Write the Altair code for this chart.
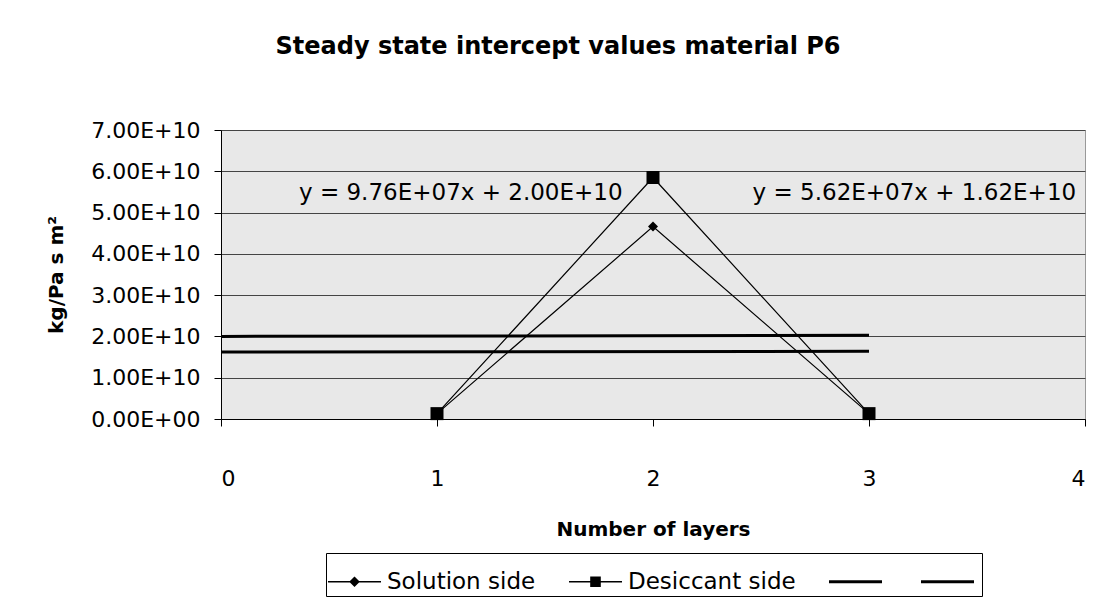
import altair as alt
import pandas as pd

# ---- data ----
layers = [1, 2, 3]
solution_side = [1.3e9, 4.66e10, 1.3e9]
desiccant_side = [1.3e9, 5.85e10, 1.3e9]

trend_x = [0, 3]
trend_upper = [2.00e10, 2.03e10]   # y = 9.76E+07x + 2.00E+10
trend_lower = [1.62e10, 1.64e10]   # y = 5.62E+07x + 1.62E+10

equations = ["y = 9.76E+07x + 2.00E+10", "y = 5.62E+07x + 1.62E+10"]
eq_x = [1.11, 3.21]
eq_y = [5.47e10, 5.47e10]

series_names = ["Solution side", "Desiccant side", "Trend A", "Trend B"]
x_ticks = [0, 1, 2, 3, 4]
y_ticks = [0, 1e10, 2e10, 3e10, 4e10, 5e10, 6e10, 7e10]

FONT = "DejaVu Sans"

# ---- tables ----
series_df = pd.DataFrame(
    {"layers": layers * 2,
     "value": solution_side + desiccant_side,
     "series": ["Solution side"] * 3 + ["Desiccant side"] * 3}
)
trend_df = pd.DataFrame(
    {"layers": trend_x * 2,
     "value": trend_upper + trend_lower,
     "series": ["Trend A"] * 2 + ["Trend B"] * 2}
)
eq_df = pd.DataFrame({"layers": eq_x, "value": eq_y, "text": equations})
legend_df = pd.DataFrame({"series": series_names})

x_enc = alt.X(
    "layers:Q",
    scale=alt.Scale(domain=[0, 4], nice=False, zero=False),
    axis=alt.Axis(
        values=x_ticks, format="d", tickSize=7, tickColor="black",
        domainColor="black", labelFont=FONT, labelFontSize=22, labelColor="black",
        labelPadding=52, labelBaseline="middle", grid=False,
        title="Number of layers", titleFont=FONT, titleFontSize=20,
        titleFontWeight="bold", titleColor="black", titleY=110,
        titleBaseline="middle",
    ),
)
y_enc = alt.Y(
    "value:Q",
    scale=alt.Scale(domain=[0, 7e10], nice=False),
    axis=alt.Axis(
        values=y_ticks,
        labelExpr="replace(upper(format(datum.value, '.2e')), 'E+0', 'E+00')",
        tickSize=7, tickColor="black", domainColor="black",
        labelFont=FONT, labelFontSize=22, labelColor="black", labelPadding=14,
        grid=True, gridColor="#444444", gridWidth=1,
        title="kg/Pa s m²", titleFont=FONT, titleFontSize=20,
        titleFontWeight="bold", titleColor="black",
        titleX=-165, titleY=144.5, titleAngle=270, titleAlign="center",
        titleBaseline="middle",
    ),
)

lines = alt.Chart(series_df).mark_line(color="black", strokeWidth=1.2).encode(
    x=x_enc, y=y_enc, detail="series:N"
)
pts_sol = alt.Chart(series_df).transform_filter(
    alt.datum.series == "Solution side"
).mark_point(shape="diamond", filled=True, color="black", size=100, opacity=1).encode(
    x="layers:Q", y="value:Q"
)
pts_des = alt.Chart(series_df).transform_filter(
    alt.datum.series == "Desiccant side"
).mark_point(shape="square", filled=True, color="black", size=169, opacity=1).encode(
    x="layers:Q", y="value:Q"
)
trends = alt.Chart(trend_df).mark_line(color="black", strokeWidth=3).encode(
    x="layers:Q", y="value:Q", detail="series:N"
)
eq_text = alt.Chart(eq_df).mark_text(
    font=FONT, fontSize=23, color="black", align="center", baseline="middle"
).encode(x="layers:Q", y="value:Q", text="text:N")

sym_sol = ("M-1,-0.025L1,-0.025L1,0.025L-1,0.025Z"
           "M0,-0.2L0.2,0L0,0.2L-0.2,0Z")
sym_des = ("M-1,-0.025L1,-0.025L1,0.025L-1,0.025Z"
           "M-0.2,-0.2L0.2,-0.2L0.2,0.2L-0.2,0.2Z")
sym_trend = "M-1,-0.055L1,-0.055L1,0.055L-1,0.055Z"

legend_layer = alt.Chart(legend_df).mark_point(filled=True, color="black", opacity=1).encode(
    x="layers:Q",
    y="value:Q",
    shape=alt.Shape(
        "series:N",
        scale=alt.Scale(domain=series_names, range=[sym_sol, sym_des, sym_trend, sym_trend]),
        legend=alt.Legend(
            orient="none", legendX=105, legendY=423, direction="horizontal",
            title=None, labelFont=FONT, labelFontSize=23, labelColor="black",
            labelLimit=400,
            labelExpr="indexof(datum.label, 'Trend') == 0 ? '' : datum.label",
            symbolSize=2809, symbolFillColor="black", symbolStrokeColor="black",
            symbolStrokeWidth=0, symbolOpacity=1, strokeColor="black",
            fillColor="white", padding=2, columnPadding=33, labelOffset=6,
        ),
    ),
)

chart = alt.layer(
    trends, lines, pts_sol, pts_des, eq_text, legend_layer
).properties(
    width=864,
    height=289,
    title=alt.TitleParams(
        text="Steady state intercept values material P6",
        font=FONT, fontSize=24, fontWeight="bold", color="black",
        anchor="middle", frame="group", dx=-95, offset=48, baseline="middle",
    ),
    autosize=alt.AutoSizeParams(type="none"),
    padding={"left": 213, "top": 122, "right": 16, "bottom": 181},
).configure_view(
    fill="#e8e8e8", stroke="#999999", strokeWidth=1
)

chart.save("out.html", embed_options={"renderer": "svg", "actions": False})
